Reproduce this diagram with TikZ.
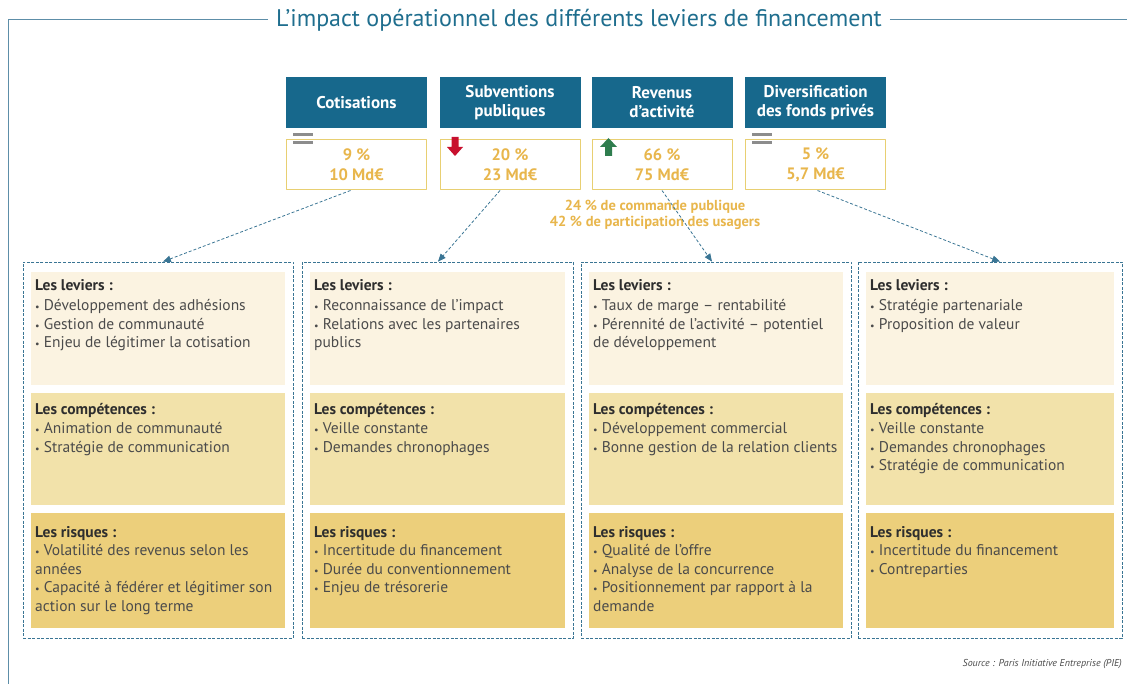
\documentclass[tikz,border=0pt]{standalone}
\usepackage{fontspec}
\setmainfont{PT Sans}
\usepackage{xcolor}
\usetikzlibrary{arrows,positioning}
\definecolor{hdblue}{HTML}{17688C}
\definecolor{framegray}{HTML}{5D8EA8}
\definecolor{titleblue}{HTML}{1F6E8E}
\definecolor{gold}{HTML}{E8B64C}
\definecolor{goldline}{HTML}{E8CF72}
\definecolor{cream}{HTML}{FBF3E1}
\definecolor{sand}{HTML}{F2E2AA}
\definecolor{ochre}{HTML}{ECCF7B}
\definecolor{dashblue}{HTML}{3A7594}
\definecolor{ink}{HTML}{2E2E2E}
\definecolor{txt}{HTML}{4B4B4B}
\definecolor{upgreen}{HTML}{2F7D4E}
\definecolor{downred}{HTML}{C8102E}
\definecolor{eqgray}{HTML}{8C8C8C}
\newcommand\itm{{\fontsize{10}{10}\selectfont\textbullet}\ }
\newcommand\hdr[1]{{\color{ink}\bfseries #1}}
\begin{document}
\begin{tikzpicture}[x=1pt,y=-1pt,line join=round,>=triangle 45,
  hd/.style={fill=hdblue,text=white,minimum width=141pt,minimum height=51pt,inner sep=0pt,
    align=center,font=\fontsize{17}{19}\selectfont\bfseries},
  val/.style={draw=goldline,line width=1pt,fill=white,minimum width=140pt,minimum height=50pt,
    inner sep=0pt,align=center,text=gold,font=\fontsize{16.5}{20}\selectfont\bfseries},
  pan/.style={draw=dashblue,dash pattern=on 3pt off 1.5pt,line width=0.7pt,minimum height=376pt,inner sep=0pt},
  lnk/.style={->,dashblue,dash pattern=on 3pt off 2pt,line width=0.8pt},
  txtbox/.style={anchor=north west,inner sep=0pt,align=left,text=txt,font=\fontsize{15.5}{18.5}\selectfont}]
\useasboundingbox (0,0) rectangle (1127,684);
% frame and title
\node[text=titleblue,font=\fontsize{24}{26}\selectfont,inner xsep=8pt] (title) at (579,20) {L’impact opérationnel des différents leviers de financement};
\draw[framegray,line width=1pt] (title.west) -- (8,20) -- (8,684);
\draw[framegray,line width=1pt] (title.east) -- (1127,20);
% funding sources
\node[hd] (hd1) at (356.5,102.5) {Cotisations};
\node[hd] (hd2) at (510,102.5) {Subventions\\publiques};
\node[hd] (hd3) at (662,102.5) {Revenus\\d’activité};
\node[hd] (hd4) at (815.5,102.5) {Diversification\\des fonds privés};
\node[val] (v1) at (356.5,165) {9 \%\\10 Md€};
\node[val] (v2) at (510,165) {20 \%\\23 Md€};
\node[val] (v3) at (662,165) {66 \%\\75 Md€};
\node[val] (v4) at (815.5,165) {5 \%\\5,7 Md€};
\node[text=gold,font=\fontsize{14.5}{16.5}\selectfont\bfseries,align=center] (note) at (655,215) {24 \% de commande publique\\42 \% de participation des usagers};
% trend marks
\foreach \x in {293,752}{
  \fill[eqgray] (\x,133) rectangle (\x+20,136);
  \fill[eqgray] (\x,141) rectangle (\x+20,144);
}
\fill[downred] (451.5,137) -- (458.5,137) -- (458.5,147) -- (463,147) -- (455,156) -- (447,147) -- (451.5,147) -- cycle;
\fill[upgreen] (605,156) -- (612,156) -- (612,147) -- (617,147) -- (608.5,138) -- (600,147) -- (605,147) -- cycle;
% panels
\node[pan,minimum width=270pt] (p1) at (158,450) {};
\node[pan,minimum width=271pt] (p2) at (437.5,450) {};
\node[pan,minimum width=270pt] (p3) at (716,450) {};
\node[pan,minimum width=264pt] (p4) at (990,450) {};
\foreach \l/\r in {31/285,310/565,589/843,866/1114}{
  \fill[cream] (\l,272) rectangle (\r,385);
  \fill[sand] (\l,393) rectangle (\r,505);
  \fill[ochre] (\l,513) rectangle (\r,628);
}
\draw[lnk] ([xshift=-6pt]v1.south) -- ([xshift=5pt]p1.north);
\draw[lnk] ([xshift=-10pt]v2.south) -- ([xshift=0.5pt]p2.north);
\draw[lnk] (v3.south) -- ([xshift=-4pt]p3.north);
\draw[lnk] ([xshift=2pt]v4.south) -- ([xshift=10pt]p4.north);
% panel texts
\node[txtbox] (l1) at (35,279) {\hdr{Les leviers :}\\[2pt]\itm Développement des adhésions\\\itm Gestion de communauté\\\itm Enjeu de légitimer la cotisation};
\node[txtbox] (c1) at (35,403) {\hdr{Les compétences :}\\[1pt]\itm Animation de communauté\\\itm Stratégie de communication};
\node[txtbox] (r1) at (35,526) {\hdr{Les risques :}\\\itm Volatilité des revenus selon les\\années\\\itm Capacité à fédérer et légitimer son\\action sur le long terme};
\node[txtbox] (l2) at (314,279) {\hdr{Les leviers :}\\[2pt]\itm Reconnaissance de l’impact\\\itm Relations avec les partenaires\\publics};
\node[txtbox] (c2) at (314,403) {\hdr{Les compétences :}\\[1pt]\itm Veille constante\\\itm Demandes chronophages};
\node[txtbox] (r2) at (314,526) {\hdr{Les risques :}\\\itm Incertitude du financement\\\itm Durée du conventionnement\\\itm Enjeu de trésorerie};
\node[txtbox] (l3) at (593,279) {\hdr{Les leviers :}\\[2pt]\itm Taux de marge – rentabilité\\\itm Pérennité de l’activité – potentiel\\de développement};
\node[txtbox] (c3) at (593,403) {\hdr{Les compétences :}\\[1pt]\itm Développement commercial\\\itm Bonne gestion de la relation clients};
\node[txtbox] (r3) at (593,526) {\hdr{Les risques :}\\\itm Qualité de l’offre\\\itm Analyse de la concurrence\\\itm Positionnement par rapport à la\\demande};
\node[txtbox] (l4) at (870,279) {\hdr{Les leviers :}\\[2pt]\itm Stratégie partenariale\\\itm Proposition de valeur};
\node[txtbox] (c4) at (870,403) {\hdr{Les compétences :}\\[1pt]\itm Veille constante\\\itm Demandes chronophages\\\itm Stratégie de communication};
\node[txtbox] (r4) at (870,526) {\hdr{Les risques :}\\\itm Incertitude du financement\\\itm Contreparties};
% source
\node[anchor=base east,text=txt,font=\fontsize{10}{12}\selectfont\itshape,inner sep=0pt] (src) at (1122,666) {Source : Paris Initiative Entreprise (PIE)};
\end{tikzpicture}
\end{document}
